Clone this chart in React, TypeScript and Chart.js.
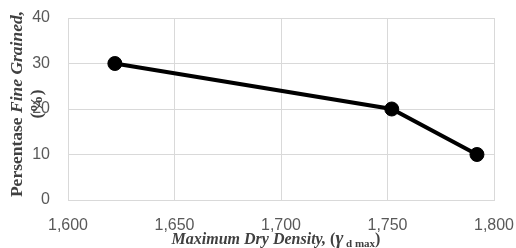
import React, { useEffect, useRef } from "react";
import { Chart, registerables } from "chart.js";

Chart.register(...registerables);

const densityValues = [1.622, 1.752, 1.792];
const fineGrainedValues = [30, 20, 10];
const xMin = 1.6;
const xMax = 1.8;
const xStep = 0.05;
const yMin = 0;
const yMax = 40;
const yStep = 10;
const yTitleMain = "Persentase ";
const yTitleItalic = "Fine Grained,";
const yTitleLine2 = "(%)";
const xTitleItalic = "Maximum Dry Density, ";
const xTitleOpen = "(";
const xTitleGamma = "γ";
const xTitleSub = " d max";
const xTitleClose = ")";

const TITLE_COLOR = "#404040";
const SERIF = "'Liberation Serif', 'Times New Roman', serif";

const titlesPlugin = {
  id: "customTitles",
  afterDraw(chart: any) {
    const ctx = chart.ctx as CanvasRenderingContext2D;
    ctx.save();
    ctx.fillStyle = TITLE_COLOR;
    ctx.textBaseline = "alphabetic";
    ctx.textAlign = "left";

    // Y title (rotated)
    const yMainF = `bold 17.5px ${SERIF}`;
    const yItF = `italic bold 17.5px ${SERIF}`;
    ctx.font = yMainF;
    const w1 = ctx.measureText(yTitleMain).width;
    ctx.font = yItF;
    const w2 = ctx.measureText(yTitleItalic).width;
    const total = w1 + w2;
    const cy = 104;
    ctx.save();
    ctx.translate(22, cy);
    ctx.rotate(-Math.PI / 2);
    ctx.font = yMainF;
    ctx.fillText(yTitleMain, -total / 2, 0);
    ctx.font = yItF;
    ctx.fillText(yTitleItalic, -total / 2 + w1, 0);
    ctx.restore();
    ctx.save();
    ctx.translate(42, cy);
    ctx.rotate(-Math.PI / 2);
    ctx.font = yMainF;
    ctx.textAlign = "center";
    ctx.fillText(yTitleLine2, 0, 0);
    ctx.restore();

    // X title
    const fIt = `italic bold 16px ${SERIF}`;
    const fMain = `bold 16px ${SERIF}`;
    const fGamma = `italic bold 19px ${SERIF}`;
    const fSub = `bold 11px ${SERIF}`;
    const parts: [string, string, number][] = [
      [xTitleItalic, fIt, 0],
      [xTitleOpen, fMain, 0],
      [xTitleGamma, fGamma, 0],
      [xTitleSub, fSub, 3],
      [xTitleClose, fMain, 0],
    ];
    let tw = 0;
    const widths = parts.map(([t, f]) => {
      ctx.font = f;
      const w = ctx.measureText(t).width;
      tw += w;
      return w;
    });
    let x = 276 - tw / 2;
    const by = 244;
    parts.forEach(([t, f, dy], i) => {
      ctx.font = f;
      ctx.fillText(t, x, by + dy);
      x += widths[i];
    });
    ctx.restore();
  },
};

export default function App() {
  const canvasRef = useRef<HTMLCanvasElement | null>(null);

  useEffect(() => {
    if (!canvasRef.current) return;
    const chart = new Chart(canvasRef.current, {
      type: "scatter",
      data: {
        datasets: [
          {
            data: densityValues.map((x, i) => ({ x, y: fineGrainedValues[i] })),
            showLine: true,
            borderColor: "#000000",
            backgroundColor: "#000000",
            borderWidth: 4,
            pointRadius: 7,
            pointBorderWidth: 1,
            pointBorderColor: "#000000",
            pointBackgroundColor: "#000000",
          },
        ],
      },
      options: {
        animation: false,
        responsive: false,
        maintainAspectRatio: false,
        layout: { padding: { top: 18, right: 22, left: 0, bottom: 0 } },
        plugins: {
          legend: { display: false },
          tooltip: { enabled: false },
          title: { display: false },
        },
        scales: {
          x: {
            type: "linear",
            min: xMin,
            max: xMax,
            afterFit: (s: any) => {
              s.height = 48;
              s.paddingLeft = 0;
              s.paddingRight = 0;
            },
            ticks: {
              stepSize: xStep,
              padding: 16,
              color: "#595959",
              font: { family: "'Liberation Sans', Arial, sans-serif", size: 16 },
              maxRotation: 0,
              callback: (v: any) => Number(v).toFixed(3).replace(".", ","),
            },
            grid: { color: "#d9d9d9", lineWidth: 1, drawTicks: false },
            border: { color: "#d9d9d9", width: 1 },
          },
          y: {
            min: yMin,
            max: yMax,
            afterFit: (s: any) => {
              s.width = 68;
              s.paddingTop = 0;
              s.paddingBottom = 0;
            },
            ticks: {
              stepSize: yStep,
              padding: 18,
              color: "#595959",
              font: { family: "'Liberation Sans', Arial, sans-serif", size: 16 },
            },
            grid: { color: "#d9d9d9", lineWidth: 1, drawTicks: false },
            border: { color: "#d9d9d9", width: 1 },
          },
        },
      },
      plugins: [titlesPlugin],
    } as any);
    return () => chart.destroy();
  }, []);

  return (
    <div style={{ position: "fixed", left: 0, top: 0, width: 516, height: 248, background: "#ffffff" }}>
      <canvas ref={canvasRef} width={516} height={248} style={{ width: 516, height: 248, display: "block" }} />
    </div>
  );
}
